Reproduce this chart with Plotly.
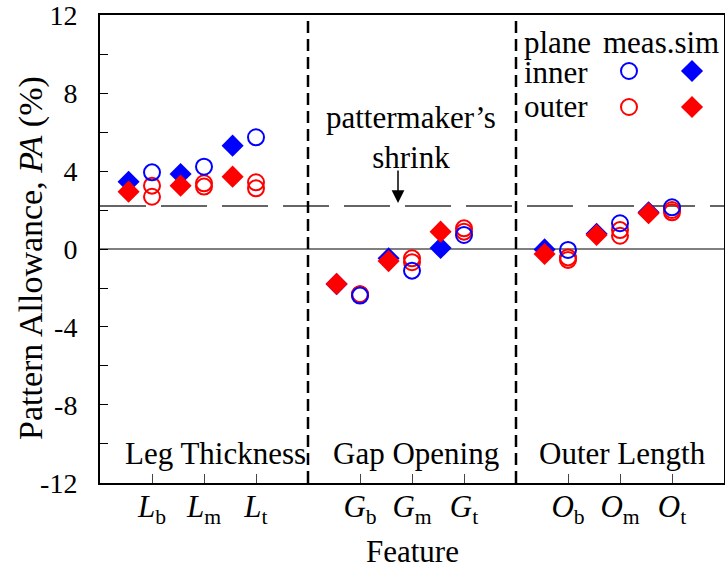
import plotly.graph_objects as go

# ---------------- data ----------------
groups = ["Leg Thickness", "Gap Opening", "Outer Length"]
group_letters = ["L", "G", "O"]
subs = ["b", "m", "t"]

sim_inner = [3.45, 3.85, 5.30, -1.80, -0.48, 0.05, -0.02, 0.78, 1.88]
sim_outer = [2.94, 3.25, 3.71, -1.79, -0.62, 0.89, -0.26, 0.72, 1.83]
meas_inner = [3.93, 4.22, 5.73, -2.39, -1.11, 0.72, -0.05, 1.32, 2.14]
meas_outer_a = [3.25, 3.37, 3.42, -2.32, -0.48, 1.06, -0.43, 0.97, 2.00]
meas_outer_b = [2.68, 3.20, 3.11, -2.32, -0.68, 0.89, -0.56, 0.68, 1.88]

shrink = 2.2
y_ticks = [12, 8, 4, 0, -4, -8, -12]

# ---------------- geometry helpers ----------------
W, H = 725, 571
L, R, T, B = 100, 724, 15, 483
XMIN, XMAX, YMIN, YMAX = 0, 12, -12, 12


def px_x(p):
    return (p - L) / (R - L)


def px_y(p):
    return (B - p) / (B - T)


def dx(p):
    return XMIN + (p - L) / (R - L) * (XMAX - XMIN)


def dy(p):
    return YMIN + (B - p) / (B - T) * (YMAX - YMIN)


x_pos = [g * 4 + i + 1 for g in range(len(groups)) for i in range(len(subs))]
x_sim = [x - 0.45 for x in x_pos]
tick_text = [f"<i>{g}</i><sub>{s}</sub>" for g in group_letters for s in subs]

BLUE = "rgb(0,0,255)"
RED = "rgb(255,0,0)"
FONT = "Liberation Serif"

fig = go.Figure()


def diamonds(x, y, color):
    fig.add_trace(go.Scatter(x=x, y=y, mode="markers", showlegend=False,
                             cliponaxis=False,
                             marker=dict(symbol="diamond", size=17, color=color,
                                         line=dict(width=0))))


def circles(x, y, color):
    fig.add_trace(go.Scatter(x=x, y=y, mode="markers", showlegend=False,
                             cliponaxis=False,
                             marker=dict(symbol="circle-open", size=16, color=color,
                                         line=dict(width=2, color=color))))


diamonds(x_sim, sim_inner, BLUE)
diamonds(x_sim, sim_outer, RED)
circles(x_pos, meas_outer_a, RED)
circles(x_pos, meas_outer_b, RED)
circles(x_pos, meas_inner, BLUE)

# legend keys
circles([dx(629)], [dy(71)], BLUE)
diamonds([dx(692)], [dy(71)], BLUE)
circles([dx(629)], [dy(107)], RED)
diamonds([dx(692)], [dy(107)], RED)

shapes = [
    dict(type="line", xref="x", yref="y", x0=XMIN, x1=XMAX, y0=shrink, y1=shrink,
         line=dict(color="#333333", width=1.5, dash="46px,15px"), layer="below"),
    dict(type="line", xref="x", yref="y", x0=XMIN, x1=XMAX, y0=0, y1=0,
         line=dict(color="black", width=1), layer="below"),
]
for g in range(1, len(groups)):
    shapes.append(dict(type="line", xref="x", yref="y", x0=g * 4, x1=g * 4,
                       y0=YMIN, y1=YMAX,
                       line=dict(color="black", width=2.5, dash="12px,6px")))

ann = []
group_centers = [215, 416, 622]
for name, cx in zip(groups, group_centers):
    ann.append(dict(text=name, x=px_x(cx), y=px_y(453), xref="paper", yref="paper",
                    showarrow=False, xanchor="center", yanchor="middle",
                    font=dict(size=31, family=FONT, color="black")))

ann.append(dict(text="pattermaker’s<br>shrink", x=px_x(411), y=px_y(137),
                xref="paper", yref="paper", showarrow=False,
                xanchor="center", yanchor="middle",
                font=dict(size=31, family=FONT, color="black")))
ann.append(dict(text="", x=dx(398), y=dy(203), xref="x", yref="y",
                ax=0, ay=-34, showarrow=True, arrowhead=2, arrowsize=1.7,
                arrowwidth=1.5, arrowcolor="black"))

for txt, lx, ly in [("plane", 522, 42), ("meas.sim", 601, 42),
                    ("inner", 522, 72), ("outer", 522, 107)]:
    ann.append(dict(text=txt, x=px_x(lx), y=px_y(ly), xref="paper", yref="paper",
                    showarrow=False, xanchor="left", yanchor="middle",
                    font=dict(size=31, family=FONT, color="black")))

ann.append(dict(text="Pattern Allowance, <i>PA</i> (%)", x=px_x(31), y=px_y(258),
                xref="paper", yref="paper", showarrow=False, textangle=-90,
                xanchor="center", yanchor="middle",
                font=dict(size=34, family=FONT, color="black")))
ann.append(dict(text="Feature", x=px_x(412), y=px_y(551), xref="paper", yref="paper",
                showarrow=False, xanchor="center", yanchor="middle",
                font=dict(size=31, family=FONT, color="black")))

fig.update_layout(
    width=W, height=H,
    margin=dict(l=L, r=W - R, t=T, b=H - B, pad=0, autoexpand=False),
    paper_bgcolor="white", plot_bgcolor="white",
    shapes=shapes, annotations=ann,
    font=dict(family=FONT, color="black"),
    xaxis=dict(range=[XMIN, XMAX], tickmode="array", tickvals=x_pos, ticktext=tick_text,
               ticks="inside", ticklen=9, tickwidth=1, tickcolor="#444",
               showgrid=False, zeroline=False, showline=True, linecolor="black",
               linewidth=2, mirror=True, tickfont=dict(size=31, family=FONT),
               ticklabelstandoff=-5, automargin=False, ticklabeloverflow="allow"),
    yaxis=dict(range=[YMIN - 0.001, YMAX + 0.001], tickmode="array", tickvals=y_ticks,
               ticktext=[str(v) for v in y_ticks],
               ticks="inside", ticklen=8, tickwidth=1, tickcolor="black",
               minor=dict(tickvals=[10, 6, 2, -2, -6, -10], ticks="inside", ticklen=8,
                          tickwidth=1, tickcolor="black"),
               showgrid=False, zeroline=False, showline=True, linecolor="black",
               linewidth=2, mirror=True, tickfont=dict(size=28, family=FONT),
               ticklabelstandoff=15, automargin=False, ticklabeloverflow="allow"),
)

fig.write_html("out.html", config={"displayModeBar": False},
               post_script="document.body.style.margin='0';document.body.style.padding='0';")
